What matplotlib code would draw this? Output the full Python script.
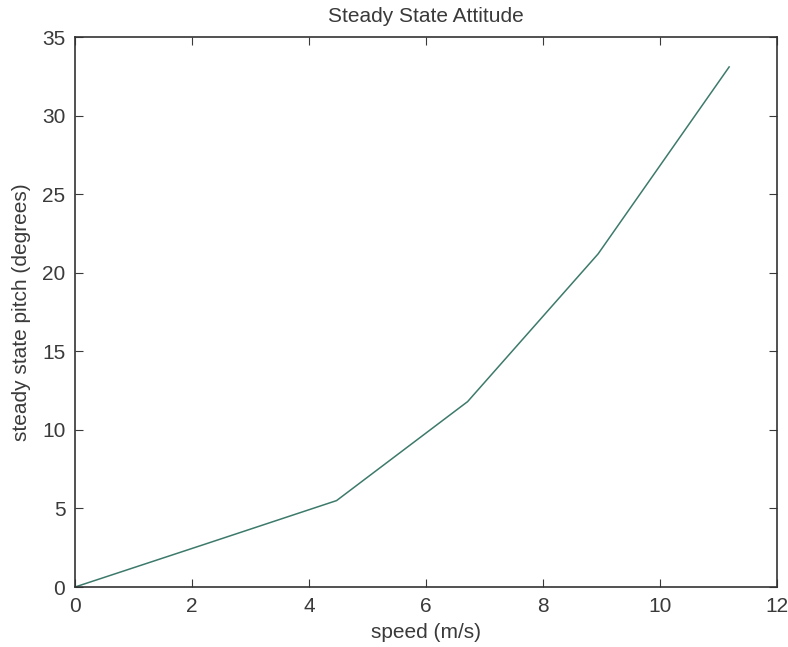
import matplotlib
matplotlib.use('Agg')
import matplotlib.pyplot as plt

# 数据
speed = [0, 2.24, 4.47, 6.71, 8.94, 11.18]
pitch = [0, 2.75, 5.5, 11.8, 21.2, 33.1]
xticks = [0, 2, 4, 6, 8, 10, 12]
yticks = [0, 5, 10, 15, 20, 25, 30, 35]

plt.rcParams['font.family'] = ['Liberation Sans', 'DejaVu Sans']
text_color = '#3a3a3a'

fig = plt.figure(figsize=(7.88, 6.47), dpi=100)
ax = fig.add_axes([0.0952, 0.0927, 0.891, 0.850])
ax.plot(speed, pitch, color='#3d7a6b', linewidth=1.1)

ax.set_xlim(0, 12)
ax.set_ylim(0, 35)
ax.set_xticks(xticks)
ax.set_yticks(yticks)
ax.tick_params(direction='in', top=True, right=True, length=6,
               labelsize=15, colors=text_color, pad=7)
for s in ax.spines.values():
    s.set_color('#333333')
    s.set_linewidth(1.2)

ax.set_title('Steady State Attitude', fontsize=15, color=text_color, pad=11)
ax.set_xlabel('speed (m/s)', fontsize=15, color=text_color, labelpad=5)
ax.set_ylabel('steady state pitch (degrees)', fontsize=15, color=text_color, labelpad=8)

fig.savefig('out.png', dpi=100)
